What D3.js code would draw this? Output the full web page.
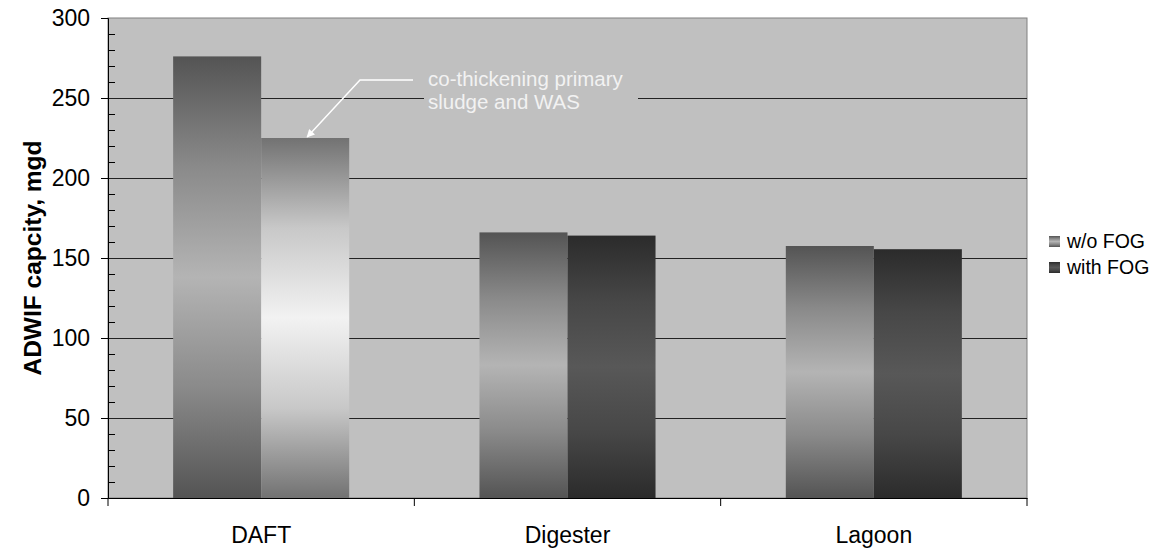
<!DOCTYPE html>
<html>
<head>
<meta charset="utf-8">
<script src="https://cdn.jsdelivr.net/npm/d3@7"></script>
<style>
  body { margin: 0; background: #fff; }
  svg text { font-family: Arial, "Liberation Sans", sans-serif; }
</style>
</head>
<body>
<div id="chart"></div>
<script>
// chart data
const categories = ["DAFT", "Digester", "Lagoon"];
const seriesNames = ["w/o FOG", "with FOG"];
const woFog = [276, 166, 157.5];
const withFog = [225, 164, 155.5];
const yTicks = [0, 50, 100, 150, 200, 250, 300];
const annotationLines = ["co-thickening primary", "sludge and WAS"];

const W = 1167, H = 554;
const margin = {top: 18, right: 140, bottom: 56, left: 108};
const width = W - margin.left - margin.right;
const height = H - margin.top - margin.bottom;

const svg = d3.select("#chart").append("svg")
    .attr("width", W)
    .attr("height", H);

// gradients (Excel style, dark edges, light centre)
const defs = svg.append("defs");
function grad(id, edge, mid, quarter) {
    let g = defs.append("linearGradient").attr("id", id)
        .attr("x1", 0).attr("y1", 0).attr("x2", 0).attr("y2", 1);
    [[0, edge], [0.25, quarter], [0.5, mid], [0.75, quarter], [1, edge]].forEach(s => {
        g.append("stop").attr("offset", s[0]).attr("stop-color", s[1]);
    });
}
grad("g-wo", "#545454", "#b4b4b4", "#8a8a8a");
grad("g-with", "#2b2b2b", "#585858", "#474747");
grad("g-hi", "#727272", "#f2f2f2", "#c8c8c8");

const g = svg.append("g")
    .attr("transform", `translate(${margin.left},${margin.top})`);

// plot area
g.append("rect")
    .attr("width", width)
    .attr("height", height)
    .attr("fill", "#c0c0c0")
    .attr("stroke", "#808080")
    .attr("stroke-width", 1);

const x0 = d3.scaleBand()
    .domain(categories)
    .range([0, width])
    .padding(0);

const x1 = d3.scaleBand()
    .domain(seriesNames)
    .range([0, x0.bandwidth()])
    .paddingInner(0)
    .paddingOuter(0.74);

const y = d3.scaleLinear()
    .domain([0, 300])
    .range([height, 0]);

// gridlines
g.append("g")
    .attr("class", "grid")
    .call(d3.axisLeft(y).tickValues(yTicks.filter(d => d > 0 && d < 300)).tickSize(-width).tickFormat(""))
    .call(s => s.select(".domain").remove())
    .selectAll("line")
    .attr("stroke", "#222")
    .attr("stroke-width", 1.2);

// bars
const rows = categories.map((c, i) => ({cat: c, vals: [woFog[i], withFog[i]]}));

const groups = g.selectAll(".cat")
    .data(rows)
    .enter()
    .append("g")
    .attr("class", "cat")
    .attr("transform", d => `translate(${x0(d.cat)},0)`);

groups.selectAll("rect")
    .data(d => d.vals.map((v, j) => ({cat: d.cat, s: seriesNames[j], v: v})))
    .enter()
    .append("rect")
    .attr("x", d => x1(d.s))
    .attr("y", d => y(d.v))
    .attr("width", x1.bandwidth())
    .attr("height", d => height - y(d.v))
    .attr("fill", d => {
        if (d.cat === "DAFT" && d.s === "with FOG") return "url(#g-hi)";
        return d.s === "w/o FOG" ? "url(#g-wo)" : "url(#g-with)";
    });

// y axis, major ticks outside
const yAxis = g.append("g")
    .attr("class", "y-axis")
    .call(d3.axisLeft(y).tickValues(yTicks).tickSize(7).tickPadding(11));
yAxis.selectAll("text").style("font-size", "23px").attr("fill", "#000");
yAxis.select(".domain").attr("stroke", "#000");

// minor ticks inside
g.append("g")
    .call(d3.axisLeft(y).tickValues(d3.range(10, 300, 10).filter(d => d % 50 !== 0)).tickSize(-7).tickFormat(""))
    .call(s => s.select(".domain").remove());

// x axis
const xAxis = g.append("g")
    .attr("transform", `translate(0,${height})`)
    .call(d3.axisBottom(x0).tickSize(0).tickPadding(29));
xAxis.selectAll("text").style("font-size", "23px").attr("fill", "#000");
xAxis.select(".domain").attr("stroke", "#000");

// category boundary ticks
g.append("g")
    .selectAll("line")
    .data(categories.map(c => x0(c)).concat([width]))
    .enter()
    .append("line")
    .attr("x1", d => d).attr("x2", d => d)
    .attr("y1", height).attr("y2", height + 8)
    .attr("stroke", "#000");

// y axis title
svg.append("text")
    .attr("transform", `translate(41,${margin.top + height / 2}) rotate(-90)`)
    .attr("text-anchor", "middle")
    .style("font-size", "24.5px")
    .style("font-weight", "bold")
    .text("ADWIF capcity, mgd");

// annotation
const ann = g.append("g").attr("class", "annotation");
ann.append("rect")
    .attr("x", 316).attr("y", 50)
    .attr("width", 214).attr("height", 46)
    .attr("fill", "#c0c0c0");
ann.selectAll("text")
    .data(annotationLines)
    .enter()
    .append("text")
    .attr("x", 320)
    .attr("y", (d, i) => 68 + i * 23)
    .attr("fill", "#f2f2f2")
    .style("font-size", "20.5px")
    .text(d => d);

const tip = {x: x0("DAFT") + x1("with FOG") + x1.bandwidth() / 2, y: y(withFog[0])};
defs.append("marker")
    .attr("id", "arrow")
    .attr("viewBox", "0 0 10 10")
    .attr("refX", 9).attr("refY", 5)
    .attr("markerWidth", 10).attr("markerHeight", 8)
    .attr("markerUnits", "userSpaceOnUse")
    .attr("orient", "auto")
    .append("path")
    .attr("d", "M0,0 L10,5 L0,10 z")
    .attr("fill", "#fff");
ann.append("polyline")
    .attr("points", `305,62 252,62 ${tip.x + 2},${tip.y - 1}`)
    .attr("fill", "none")
    .attr("stroke", "#fff")
    .attr("stroke-width", 1.5)
    .attr("marker-end", "url(#arrow)");

// legend
const legend = svg.append("g")
    .attr("transform", "translate(1049,236)");
const li = legend.selectAll("g")
    .data(seriesNames)
    .enter()
    .append("g")
    .attr("transform", (d, i) => `translate(0,${i * 26})`);
li.append("rect")
    .attr("width", 11).attr("height", 11)
    .attr("fill", (d, i) => i === 0 ? "url(#g-wo)" : "url(#g-with)");
li.append("text")
    .attr("x", 18).attr("y", 12)
    .style("font-size", "19.5px")
    .text(d => d);
</script>
</body>
</html>
